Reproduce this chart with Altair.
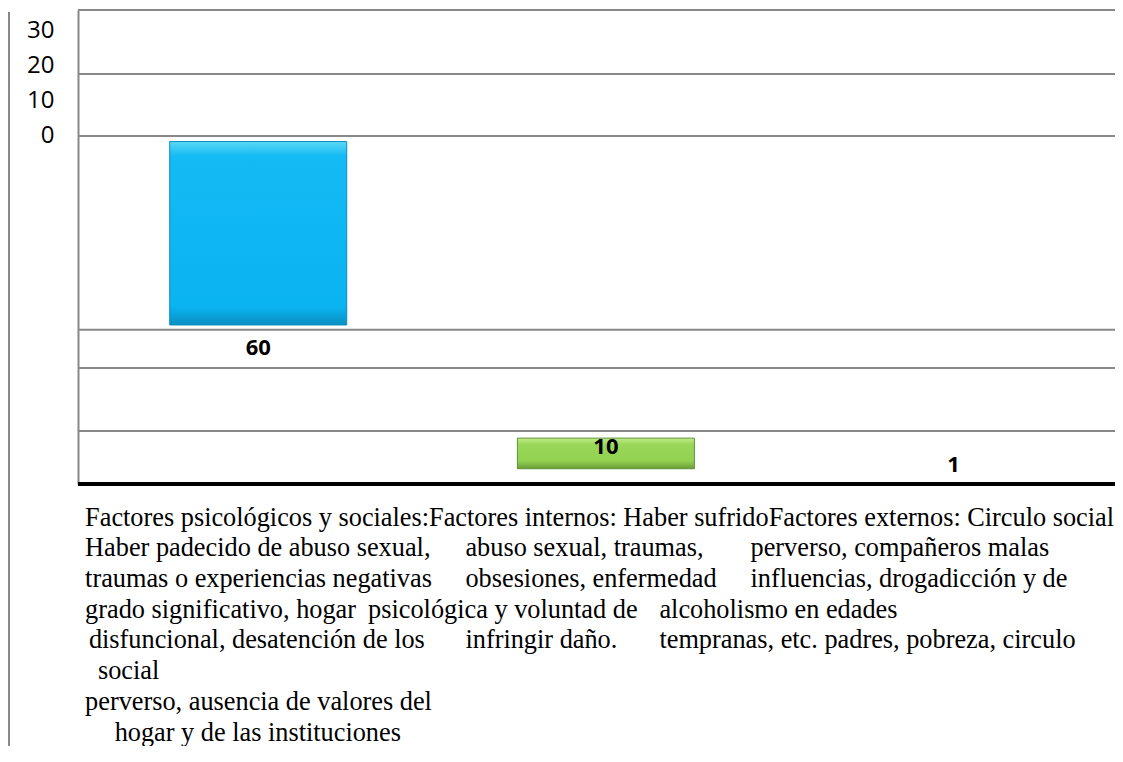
import altair as alt
import pandas as pd

# ---------------- data ----------------
CATEGORIES = ["Factores psicológicos y sociales", "Factores internos", "Factores externos"]
VALUES = [60, 10, 1]
# floating baselines of the (garbled) original bars, in value units
BASES = [52, 5, 5]
LABEL_Y = [44.5, 12.1, 6.2]

Y_TICK_VALUES = [148.3, 136.8, 125.3, 113.9]
Y_TICK_LABELS = ["30", "20", "10", "0"]
GRID_VALUES = [155, 134.1, 113.8, 50.4, 37.9, 17.3]

# category text, as it is laid out under the plot
SEG_LINE = [0, 1, 1, 1, 2, 2, 2, 3, 3, 3, 4, 4, 4, 5, 6, 7]
SEG_X = [0.002, 0.002, 1.096, 1.916,
         0.002, 1.096, 1.916,
         0.002, 0.816, 1.654,
         0.013, 1.096, 1.654,
         0.039, 0.002, 0.087]
SEG_TEXT = [
    "Factores psicológicos y sociales:Factores internos: Haber sufridoFactores externos: Circulo social",
    "Haber padecido de abuso sexual,", "abuso sexual, traumas,", "perverso, compañeros malas",
    "traumas o experiencias negativas", "obsesiones, enfermedad", "influencias, drogadicción y de",
    "grado significativo, hogar", "psicológica y voluntad de", "alcoholismo en edades",
    "disfuncional, desatención de los", "infringir daño.", "tempranas, etc. padres, pobreza, circulo",
    "social",
    "perverso, ausencia de valores del",
    "hogar y de las instituciones",
]
LINE_Y0 = -11.0
LINE_STEP = -10.04

# ---------------- tables ----------------
bars = pd.DataFrame({
    "cat": CATEGORIES,
    "idx": list(range(len(CATEGORIES))),
    "value": VALUES,
    "base": BASES,
    "label_y": LABEL_Y,
})
grid = pd.DataFrame({"g": GRID_VALUES})
segs = pd.DataFrame({"line": SEG_LINE, "sx": SEG_X, "text": SEG_TEXT})

xscale = alt.Scale(domain=[-0.004, 2.950], nice=False, zero=False)
yscale = alt.Scale(domain=[0, 155], nice=False, zero=False)

label_expr = " : ".join(
    f"datum.value > {v - 5} ? '{t}'" for v, t in zip(Y_TICK_VALUES[:-1], Y_TICK_LABELS[:-1])
) + f" : '{Y_TICK_LABELS[-1]}'"

yaxis = alt.Axis(values=Y_TICK_VALUES, labelExpr=label_expr, ticks=False, grid=False,
                 domain=True, domainColor="#888888", domainWidth=2, labelPadding=24,
                 labelFont="Open Sans", labelFontSize=24, labelColor="black",
                 labelOverlap=False, title=None)

gridlayer = alt.Chart(grid).mark_rule(color="#888888", strokeWidth=2).encode(
    y=alt.Y("g:Q", scale=yscale, axis=yaxis)
)

baseline = alt.Chart(grid).mark_rule(color="black", strokeWidth=3).encode(
    y=alt.datum(0, scale=yscale)
)

leftline = alt.Chart(grid).mark_rule(color="#888888", strokeWidth=2).encode(
    x=alt.value(-69), y=alt.value(2), y2=alt.value(760)
)

blue = alt.LinearGradient(gradient="linear", x1=0, x2=0, y1=0, y2=1, stops=[
    alt.GradientStop(color="#5ad8f6", offset=0),
    alt.GradientStop(color="#14baf3", offset=0.08),
    alt.GradientStop(color="#0ab4f1", offset=0.9),
    alt.GradientStop(color="#0a8fc2", offset=1),
])
green = alt.LinearGradient(gradient="linear", x1=0, x2=0, y1=0, y2=1, stops=[
    alt.GradientStop(color="#c0ec8a", offset=0),
    alt.GradientStop(color="#9bd85a", offset=0.2),
    alt.GradientStop(color="#92d050", offset=0.75),
    alt.GradientStop(color="#6a9e3a", offset=1),
])

base_bar = alt.Chart(bars).transform_calculate(
    xc="datum.idx + 0.5", top="datum.base + datum.value"
)

bar_enc = dict(
    x=alt.X("xc:Q", scale=xscale, axis=None),
    y=alt.Y("base:Q", scale=yscale),
    y2="top:Q",
)

bar1 = base_bar.transform_filter("datum.idx == 0").mark_bar(
    size=177, color=blue, stroke="#0a8cbd", strokeWidth=1
).encode(**bar_enc)
bar2 = base_bar.transform_filter("datum.idx == 1").mark_bar(
    size=177, color=green, stroke="#5f9133", strokeWidth=1
).encode(**bar_enc)

labels = base_bar.mark_text(font="Open Sans", fontWeight="bold", fontSize=22,
                            color="black", baseline="middle").encode(
    x=alt.X("xc:Q", scale=xscale, axis=None),
    y=alt.Y("label_y:Q", scale=yscale),
    text=alt.Text("value:Q"),
)

textlayer = alt.Chart(segs).transform_calculate(
    sy=f"{LINE_Y0} + {LINE_STEP} * datum.line"
).mark_text(align="left", baseline="middle", font="Liberation Serif",
            fontSize=26.3, color="black").encode(
    x=alt.X("sx:Q", scale=xscale, axis=None),
    y=alt.Y("sy:Q", scale=yscale),
    text="text:N",
)

chart = alt.layer(gridlayer, baseline, leftline, bar1, bar2, labels, textlayer).properties(
    width=1037, height=474,
    autosize=alt.AutoSizeParams(type="none"),
    padding={"left": 70, "top": 2, "right": 0, "bottom": 262},
).configure_view(stroke=None).configure(background="white")

chart.save("out.html", embed_options={"renderer": "svg", "actions": False})
